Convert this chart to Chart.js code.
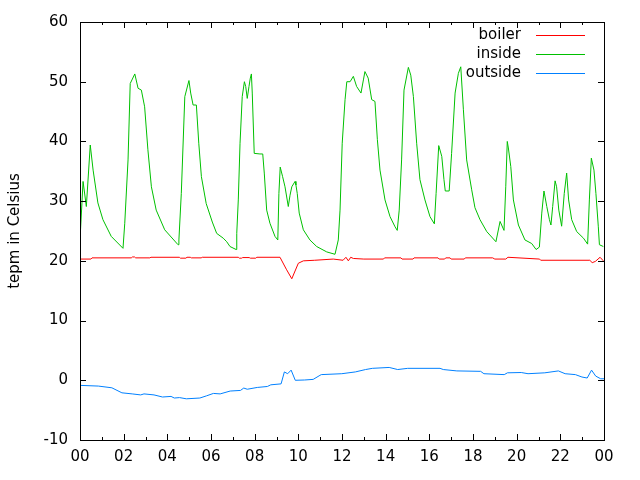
<!DOCTYPE html>
<html>
<head>
<meta charset="utf-8">
<script src="https://cdn.jsdelivr.net/npm/chart.js@4"></script>
<style>
  body { margin: 0; background: #fff; }
  canvas { display: block; }
</style>
</head>
<body>
<canvas id="myChart" width="640" height="480"></canvas>
<script>
// hours of the day (0-24) and temperatures
let boilerHours = [0, 0.5, 0.55, 2.35, 2.4, 2.5, 2.55, 3.2, 3.25, 4.55, 4.6, 4.85, 4.9, 5.05, 5.1, 5.55, 5.6,
  7.25, 7.3, 7.4, 7.45, 7.75, 7.8, 8.05, 8.1, 9.16, 9.45, 9.7, 9.85, 10.0, 10.23, 10.75, 11.6, 12.05,
  12.18, 12.29, 12.4, 12.52, 13.0, 13.9, 13.95, 14.7, 14.75, 15.25, 15.3, 16.4, 16.45, 16.7, 16.75,
  16.95, 17.0, 17.6, 17.65, 18.9, 19.0, 19.5, 19.6, 21.05, 21.1, 23.35, 23.46, 23.6, 23.82, 23.97];
let boilerTemps = [20.3, 20.3, 20.5, 20.5, 20.65, 20.65, 20.5, 20.5, 20.6, 20.6, 20.45, 20.45, 20.6, 20.6, 20.5, 20.5, 20.6,
  20.6, 20.45, 20.45, 20.55, 20.55, 20.45, 20.45, 20.6, 20.6, 18.6, 17.0, 18.3, 19.6, 20.0, 20.1, 20.3, 20.1,
  20.6, 20.0, 20.6, 20.4, 20.3, 20.3, 20.5, 20.5, 20.3, 20.3, 20.5, 20.5, 20.3, 20.3, 20.5,
  20.5, 20.3, 20.3, 20.5, 20.5, 20.3, 20.3, 20.6, 20.3, 20.1, 20.1, 19.7, 19.9, 20.6, 20.0];

let insideHours = [0, 0.14, 0.29, 0.47, 0.6, 0.82, 1.05, 1.43, 1.97, 2.05, 2.2, 2.3, 2.51, 2.66, 2.81, 2.96,
  3.11, 3.27, 3.49, 3.88, 4.49, 4.53, 4.64, 4.8, 4.99, 5.07, 5.18, 5.33, 5.44, 5.56, 5.78, 6.06, 6.26,
  6.56, 6.72, 6.87, 7.15, 7.18, 7.25, 7.33, 7.43, 7.53, 7.59, 7.66, 7.74, 7.8, 7.85, 7.89, 7.98, 8.24,
  8.37, 8.44, 8.55, 8.7, 8.93, 9.06, 9.11, 9.17, 9.28, 9.39, 9.54, 9.62, 9.7, 9.85, 9.89, 9.95, 10.04,
  10.23, 10.53, 10.84, 11.3, 11.68, 11.83, 11.91, 12.01, 12.14, 12.22, 12.37, 12.52, 12.67, 12.87, 12.98,
  13.05, 13.2, 13.36, 13.51, 13.62, 13.74, 13.97, 14.2, 14.43, 14.53, 14.62, 14.73, 14.84, 15.04, 15.15,
  15.27, 15.42, 15.57, 15.8, 16.03, 16.23, 16.31, 16.43, 16.57, 16.67, 16.73, 16.91, 17.02, 17.18, 17.33,
  17.44, 17.56, 17.71, 17.94, 18.09, 18.32, 18.63, 19.05, 19.24, 19.42, 19.5, 19.57, 19.62, 19.73, 19.85,
  20.08, 20.38, 20.69, 20.89, 21.04, 21.15, 21.25, 21.38, 21.5, 21.57, 21.65, 21.76, 21.83, 21.93, 22.06,
  22.18, 22.29, 22.38, 22.52, 22.75, 23.06, 23.25, 23.33, 23.42, 23.54, 23.63, 23.74, 23.79, 23.97];
let insideTemps = [23.5, 33.3, 29.1, 39.4, 35.2, 29.7, 26.9, 24.1, 22.1, 26.3, 36.9, 49.7, 51.3, 48.9, 48.6, 45.8,
  38.6, 32.4, 28.5, 25.2, 22.7, 23.5, 31.3, 47.5, 50.2, 48.1, 46.1, 46.1, 39.7, 34.1, 29.6, 26.5, 24.6,
  23.8, 23.2, 22.4, 21.9, 24.6, 30.2, 39.7, 47.5, 50.0, 49.2, 47.2, 49.2, 50.6, 51.3, 48.1, 38.0, 37.9,
  37.9, 34.7, 28.5, 26.3, 24.1, 23.5, 31.3, 35.7, 34.1, 32.4, 29.1, 31.0, 32.4, 33.3, 32.7, 31.3, 28.0,
  25.2, 23.5, 22.4, 21.5, 21.1, 23.5, 28.5, 39.7, 47.0, 50.0, 50.0, 50.9, 49.2, 48.1, 50.3,
  51.7, 50.6, 47.0, 46.7, 40.3, 35.2, 30.2, 27.4, 25.7, 25.1, 28.5, 36.9, 48.6, 52.4, 51.1,
  47.5, 39.7, 33.6, 30.2, 27.4, 26.2, 31.3, 39.3, 37.5, 33.6, 31.7, 31.7, 38.0, 48.1, 51.4,
  52.5, 45.3, 36.9, 31.9, 28.9, 26.9, 24.9, 23.2, 26.6, 25.1, 32.4, 40.0, 38.9, 35.8, 30.2,
  26.0, 23.5, 22.9, 21.9, 22.3, 28.0, 31.7, 29.1, 26.9, 26.0, 29.1, 33.4, 32.4, 28.5, 25.8,
  31.3, 34.7, 30.2, 26.9, 24.9, 23.8, 22.8, 30.2, 37.2, 35.2, 31.3, 25.7, 22.7, 22.4];

let outsideHours = [0, 0.84, 1.46, 1.92, 2.39, 2.78, 2.93, 3.39, 3.78, 4.17, 4.32, 4.56, 4.87, 5.49, 5.8,
  6.11, 6.42, 6.88, 7.35, 7.5, 7.66, 8.12, 8.58, 8.74, 9.21, 9.36, 9.51, 9.67, 9.86, 10.29, 10.68, 10.99,
  11.05, 11.99, 12.61, 13.08, 13.39, 14.16, 14.55, 15.01, 15.71, 16.49, 16.64, 17.26, 18.35, 18.5, 19.43,
  19.58, 20.21, 20.52, 21.29, 21.91, 22.22, 22.69, 22.99, 23.23, 23.43, 23.62, 23.85, 24];
let outsideTemps = [-0.85, -0.97, -1.26, -2.1, -2.28, -2.45, -2.28, -2.45, -2.8, -2.7, -2.97, -2.9, -3.1, -2.97, -2.6,
  -2.2, -2.28, -1.8, -1.7, -1.3, -1.5, -1.2, -1.04, -0.76, -0.6, 1.4, 1.1, 1.7, 0.0, 0.05, 0.15, 0.83,
  0.95, 1.1, 1.4, 1.8, 2.0, 2.15, 1.8, 2.0, 2.0, 2.0, 1.8, 1.57, 1.5, 1.1, 0.95,
  1.25, 1.3, 1.1, 1.25, 1.57, 1.1, 0.95, 0.55, 0.38, 1.7, 0.7, 0.25, 0.25];

let seriesNames = ["boiler", "inside", "outside"];
let seriesColors = ["#ff0000", "#00c000", "#0080ff"];

function points(hours, temps) {
  return hours.map((h, i) => ({ x: h, y: temps[i] }));
}

const font = { family: "DejaVu Sans", size: 15 };

// gnuplot style frame with inward ticks, plus the key in the top right corner
const framePlugin = {
  id: "frame",
  afterDatasetsDraw(chart) {
    const ctx = chart.ctx;
    const a = chart.chartArea;
    const xs = chart.scales.x;
    const ys = chart.scales.y;
    ctx.save();
    ctx.strokeStyle = "#000";
    ctx.lineWidth = 1;
    ctx.strokeRect(a.left + 0.5, a.top + 0.5, a.right - a.left, a.bottom - a.top);
    ctx.beginPath();
    for (let h = 0; h <= 24; h++) {
      const px = Math.round(xs.getPixelForValue(h)) + 0.5;
      const len = h % 2 === 0 ? 6 : 3;
      ctx.moveTo(px, a.bottom);
      ctx.lineTo(px, a.bottom - len);
      ctx.moveTo(px, a.top);
      ctx.lineTo(px, a.top + len);
    }
    for (let v = -10; v <= 60; v += 10) {
      const py = Math.round(ys.getPixelForValue(v)) + 0.5;
      ctx.moveTo(a.left, py);
      ctx.lineTo(a.left + 6, py);
      ctx.moveTo(a.right, py);
      ctx.lineTo(a.right - 6, py);
    }
    ctx.stroke();

    ctx.font = "15px 'DejaVu Sans'";
    ctx.textAlign = "right";
    ctx.textBaseline = "middle";
    seriesNames.forEach((name, i) => {
      const y = 35 + 19 * i;
      ctx.fillStyle = "#000";
      ctx.fillText(name, 521, y);
      ctx.strokeStyle = seriesColors[i];
      ctx.beginPath();
      ctx.moveTo(536, y + 0.5);
      ctx.lineTo(585, y + 0.5);
      ctx.stroke();
    });
    ctx.restore();
  },
};

const ctx = document.getElementById("myChart").getContext("2d");
const myChart = new Chart(ctx, {
  type: "line",
  data: {
    datasets: [
      { label: seriesNames[0], data: points(boilerHours, boilerTemps), borderColor: seriesColors[0] },
      { label: seriesNames[1], data: points(insideHours, insideTemps), borderColor: seriesColors[1] },
      { label: seriesNames[2], data: points(outsideHours, outsideTemps), borderColor: seriesColors[2] },
    ].map((d) => Object.assign(d, { borderWidth: 1, pointRadius: 0, tension: 0, fill: false })),
  },
  options: {
    responsive: false,
    animation: false,
    devicePixelRatio: 1,
    layout: { padding: { top: 22, right: 36, left: 0, bottom: 0 } },
    plugins: { legend: { display: false }, tooltip: { enabled: false } },
    scales: {
      x: {
        type: "linear",
        min: 0,
        max: 24,
        afterFit: (s) => { s.height = 40; },
        grid: { drawOnChartArea: false, drawTicks: false },
        border: { display: false },
        ticks: {
          stepSize: 2,
          autoSkip: false,
          maxRotation: 0,
          padding: 8,
          color: "#000",
          font: font,
          callback: (v) => String(v % 24).padStart(2, "0"),
        },
      },
      y: {
        min: -10,
        max: 60,
        afterFit: (s) => { s.width = 80; },
        grid: { drawOnChartArea: false, drawTicks: false },
        border: { display: false },
        ticks: { stepSize: 10, padding: 12, color: "#000", font: font },
        title: { display: true, text: "tepm in Celsius", color: "#000", font: font, padding: { top: 6 } },
      },
    },
  },
  plugins: [framePlugin],
});
</script>
</body>
</html>
